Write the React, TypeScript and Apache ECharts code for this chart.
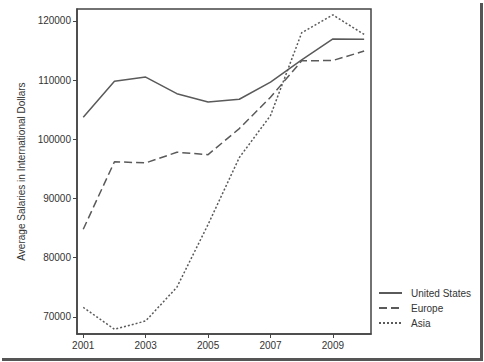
import React, { useEffect, useRef } from "react";
import * as echarts from "echarts";

const years = [2001, 2002, 2003, 2004, 2005, 2006, 2007, 2008, 2009, 2010];
const unitedStates = [103700, 109800, 110500, 107700, 106300, 106750, 109650, 113400, 116950, 116900];
const europe = [84800, 96200, 96000, 97800, 97400, 101800, 107100, 113250, 113300, 114900];
const asia = [71600, 67900, 69300, 75000, 85600, 96900, 104000, 118000, 121000, 117700];
const xTicks = [2001, 2003, 2005, 2007, 2009];
const yTicks = [70000, 80000, 90000, 100000, 110000, 120000];

const FONT = "'Liberation Sans', Arial, sans-serif";
const LINE = "#5a5a5a";
const TEXT = "#333";

export default function App() {
  const ref = useRef<HTMLDivElement>(null);
  useEffect(() => {
    if (!ref.current) return;
    const chart = echarts.init(ref.current, undefined, { renderer: "svg" });
    const mk = (name: string, vals: number[], type: any) => ({
      name,
      type: "line",
      data: years.map((y, i) => [y, vals[i]]),
      symbol: "none",
      lineStyle: { color: LINE, width: 1.5, type },
      itemStyle: { color: LINE },
    });
    chart.setOption({
      animation: false,
      backgroundColor: "#fff",
      grid: {
        left: 77,
        top: 9,
        right: 113,
        bottom: 28,
        show: true,
        borderColor: "#444",
        borderWidth: 1.5,
        backgroundColor: "transparent",
      },
      xAxis: {
        type: "value",
        min: 2000.8,
        max: 2010.22,
        splitLine: { show: false },
        axisLine: { lineStyle: { color: "#444", width: 1.5 } },
        axisTick: { length: 4, lineStyle: { color: "#444" }, customValues: xTicks },
        axisLabel: {
          customValues: xTicks,
          color: TEXT,
          fontFamily: FONT,
          fontSize: 10,
          margin: 6,
          formatter: (v: number) => String(v),
        },
      },
      yAxis: {
        type: "value",
        min: 67100,
        max: 122000,
        name: "Average Salaries in International Dollars",
        nameLocation: "middle",
        nameRotate: 90,
        nameGap: 49,
        nameTextStyle: { color: TEXT, fontFamily: FONT, fontSize: 10 },
        splitLine: { show: false },
        axisLine: { lineStyle: { color: "#444", width: 1.5 } },
        axisTick: { length: 4, lineStyle: { color: "#444" }, customValues: yTicks },
        axisLabel: {
          customValues: yTicks,
          color: TEXT,
          fontFamily: FONT,
          fontSize: 10,
          margin: 6,
          formatter: (v: number) => String(v),
        },
      },
      legend: {
        orient: "vertical",
        left: 378,
        top: 288,
        padding: 0,
        itemWidth: 23,
        itemHeight: 10,
        itemGap: 5,
        itemStyle: { opacity: 0 },
        textStyle: { color: TEXT, fontFamily: FONT, fontSize: 10, padding: [0, 0, 0, 4] },
        data: ["United States", "Europe", "Asia"],
      },
      graphic: [
        { type: "rect", shape: { x: 480, y: 3, width: 3, height: 358 }, style: { fill: "#555" } },
        { type: "rect", shape: { x: 2, y: 358, width: 481, height: 3 }, style: { fill: "#555" } },
      ],
      series: [
        mk("United States", unitedStates, "solid"),
        mk("Europe", europe, [8, 4]),
        mk("Asia", asia, [2, 2]),
      ],
    });
    return () => chart.dispose();
  }, []);
  return (
    <div
      ref={ref}
      style={{ position: "fixed", left: 0, top: 0, width: 484, height: 362 }}
    />
  );
}
